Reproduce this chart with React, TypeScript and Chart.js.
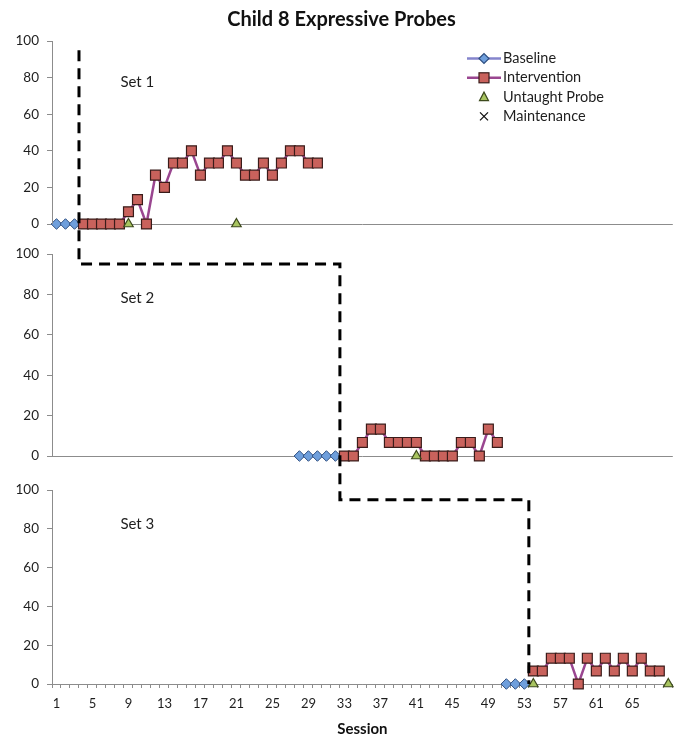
import React, { useEffect, useRef } from 'react';
import { Chart, registerables } from 'chart.js';

Chart.register(...registerables);

const TITLE = 'Child 8 Expressive Probes';
const X_TITLE = 'Session';
const FONT = 'Lato, "Open Sans", sans-serif';

const xTickLabels = [1, 5, 9, 13, 17, 21, 25, 29, 33, 37, 41, 45, 49, 53, 57, 61, 65];
const yTickValues = [0, 20, 40, 60, 80, 100];

// Set 1
const set1BaselineSessions = [1, 2, 3];
const set1BaselineValues = [0, 0, 0];
const set1InterventionSessions = [4, 5, 6, 7, 8, 9, 10, 11, 12, 13, 14, 15, 16, 17, 18, 19, 20, 21, 22, 23, 24, 25, 26, 27, 28, 29, 30];
const set1InterventionValues = [0, 0, 0, 0, 0, 6.7, 13.3, 0, 26.7, 20, 33.3, 33.3, 40, 26.7, 33.3, 33.3, 40, 33.3, 26.7, 26.7, 33.3, 26.7, 33.3, 40, 40, 33.3, 33.3];
const set1ProbeSessions = [9, 21];
const set1ProbeValues = [0, 0];

// Set 2
const set2BaselineSessions = [28, 29, 30, 31, 32];
const set2BaselineValues = [0, 0, 0, 0, 0];
const set2InterventionSessions = [33, 34, 35, 36, 37, 38, 39, 40, 41, 42, 43, 44, 45, 46, 47, 48, 49, 50];
const set2InterventionValues = [0, 0, 6.7, 13.3, 13.3, 6.7, 6.7, 6.7, 6.7, 0, 0, 0, 0, 6.7, 6.7, 0, 13.3, 6.7];
const set2ProbeSessions = [41];
const set2ProbeValues = [0];

// Set 3
const set3BaselineSessions = [51, 52, 53];
const set3BaselineValues = [0, 0, 0];
const set3InterventionSessions = [54, 55, 56, 57, 58, 59, 60, 61, 62, 63, 64, 65, 66, 67, 68];
const set3InterventionValues = [6.7, 6.7, 13.3, 13.3, 13.3, 0, 13.3, 6.7, 13.3, 6.7, 13.3, 6.7, 13.3, 6.7, 6.7];
const set3ProbeSessions = [54, 69];
const set3ProbeValues = [0, 0];

// Phase-change line and panel labels
const phaseSessions = [3.5, 32.5, 53.5];
const phaseTopValue = 95;
const setLabels = ['Set 1', 'Set 2', 'Set 3'];
const setLabelSession = 8.1;
const setLabelValues = [77.6, 78.2, 82.5];

const legendLabels = ['Baseline', 'Intervention', 'Untaught Probe', 'Maintenance'];

const COLORS = {
  baseLine: '#8585cc',
  baseFill: '#6f9fdc',
  baseBorder: '#2f4f80',
  intLine: '#9a4690',
  intFill: '#c9625c',
  intBorder: '#3a1c1a',
  probeFill: '#a8c460',
  probeBorder: '#3d4a1d',
  axis: '#8c8c8c',
  text: '#1e1e1e',
};

const pts = (xs: number[], ys: number[]) => xs.map((x, i) => ({ x, y: ys[i] }));

const baseline = (xs: number[], ys: number[], axis: string) => ({
  label: 'Baseline',
  yAxisID: axis,
  data: pts(xs, ys),
  borderColor: COLORS.baseLine,
  borderWidth: 2.5,
  pointStyle: 'rectRot',
  pointRadius: 5.3,
  pointBackgroundColor: COLORS.baseFill,
  pointBorderColor: COLORS.baseBorder,
  pointBorderWidth: 1,
  clip: false,
});

const intervention = (xs: number[], ys: number[], axis: string) => ({
  label: 'Intervention',
  yAxisID: axis,
  data: pts(xs, ys),
  borderColor: COLORS.intLine,
  borderWidth: 2.5,
  pointStyle: 'rect',
  pointRadius: 7,
  pointBackgroundColor: COLORS.intFill,
  pointBorderColor: COLORS.intBorder,
  pointBorderWidth: 1.2,
  clip: false,
});

const probe = (xs: number[], ys: number[], axis: string) => ({
  label: 'Untaught Probe',
  yAxisID: axis,
  data: pts(xs, ys),
  showLine: false,
  pointStyle: 'triangle',
  pointRadius: 5.5,
  pointBackgroundColor: COLORS.probeFill,
  pointBorderColor: COLORS.probeBorder,
  pointBorderWidth: 1.2,
  clip: false,
});

const yAxis = (min: number, weight: number) => ({
  type: 'linear',
  position: 'left',
  stack: 'panels',
  stackWeight: weight,
  min,
  max: 100,
  afterBuildTicks: (s: any) => {
    s.ticks = yTickValues.map((v) => ({ value: v }));
  },
  afterFit: (s: any) => {
    s.width = 44;
  },
  border: { display: false },
  grid: {
    drawOnChartArea: true,
    drawTicks: true,
    tickLength: 5,
    lineWidth: 1,
    color: (ctx: any) => (ctx.tick && ctx.tick.value === 0 ? COLORS.axis : 'rgba(0,0,0,0)'),
    tickColor: COLORS.axis,
  },
  ticks: {
    font: { family: FONT, size: 13.5 },
    color: COLORS.text,
    padding: 8,
  },
});

const decorPlugin = {
  id: 'decor',
  afterDatasetsDraw(chart: any) {
    const { ctx, chartArea, scales } = chart;
    const x = scales.x;
    const ys = [scales.y1, scales.y2, scales.y3];
    ctx.save();
    // y-axis lines per panel
    ctx.strokeStyle = COLORS.axis;
    ctx.lineWidth = 1;
    ys.forEach((s) => {
      ctx.beginPath();
      ctx.moveTo(chartArea.left + 0.5, s.getPixelForValue(100));
      ctx.lineTo(chartArea.left + 0.5, s.getPixelForValue(0));
      ctx.stroke();
    });
    // phase-change dashed line
    ctx.strokeStyle = '#000';
    ctx.lineWidth = 3;
    ctx.setLineDash([11, 7]);
    ctx.beginPath();
    const x0 = x.getPixelForValue(phaseSessions[0]);
    ctx.moveTo(x0, ys[0].getPixelForValue(phaseTopValue));
    ctx.lineTo(x0, ys[1].getPixelForValue(phaseTopValue));
    const x1 = x.getPixelForValue(phaseSessions[1]);
    ctx.lineTo(x1, ys[1].getPixelForValue(phaseTopValue));
    ctx.lineTo(x1, ys[2].getPixelForValue(phaseTopValue));
    const x2 = x.getPixelForValue(phaseSessions[2]);
    ctx.lineTo(x2, ys[2].getPixelForValue(phaseTopValue));
    ctx.lineTo(x2, ys[2].getPixelForValue(0));
    ctx.stroke();
    ctx.setLineDash([]);
    // set labels
    ctx.fillStyle = COLORS.text;
    ctx.font = `15px ${FONT}`;
    ctx.textBaseline = 'middle';
    ctx.textAlign = 'left';
    setLabels.forEach((t, i) => {
      ctx.fillText(t, x.getPixelForValue(setLabelSession), ys[i].getPixelForValue(setLabelValues[i]));
    });
    // legend
    const lx = chartArea.left + 415;
    const mx = lx + 17;
    const tx = lx + 36;
    ctx.font = `14.5px ${FONT}`;
    legendLabels.forEach((label, i) => {
      const ly = chartArea.top + 17.5 + i * 19.3;
      if (i === 0 || i === 1) {
        ctx.strokeStyle = i === 0 ? COLORS.baseLine : COLORS.intLine;
        ctx.lineWidth = 2.5;
        ctx.beginPath();
        ctx.moveTo(lx, ly);
        ctx.lineTo(lx + 34, ly);
        ctx.stroke();
      }
      ctx.lineWidth = 1.2;
      if (i === 0) {
        ctx.fillStyle = COLORS.baseFill;
        ctx.strokeStyle = COLORS.baseBorder;
        ctx.beginPath();
        ctx.moveTo(mx - 5, ly);
        ctx.lineTo(mx, ly - 5);
        ctx.lineTo(mx + 5, ly);
        ctx.lineTo(mx, ly + 5);
        ctx.closePath();
        ctx.fill();
        ctx.stroke();
      } else if (i === 1) {
        ctx.fillStyle = COLORS.intFill;
        ctx.strokeStyle = COLORS.intBorder;
        ctx.fillRect(mx - 5, ly - 5, 10, 10);
        ctx.strokeRect(mx - 5, ly - 5, 10, 10);
      } else if (i === 2) {
        ctx.fillStyle = COLORS.probeFill;
        ctx.strokeStyle = COLORS.probeBorder;
        ctx.beginPath();
        ctx.moveTo(mx, ly - 5);
        ctx.lineTo(mx + 4.5, ly + 3.5);
        ctx.lineTo(mx - 4.5, ly + 3.5);
        ctx.closePath();
        ctx.fill();
        ctx.stroke();
      } else {
        ctx.strokeStyle = '#111';
        ctx.lineWidth = 1.3;
        ctx.beginPath();
        ctx.moveTo(mx - 4, ly - 4);
        ctx.lineTo(mx + 4, ly + 4);
        ctx.moveTo(mx + 4, ly - 4);
        ctx.lineTo(mx - 4, ly + 4);
        ctx.stroke();
      }
      ctx.fillStyle = COLORS.text;
      ctx.fillText(label, tx, ly);
    });
    ctx.restore();
  },
};

export default function App() {
  const ref = useRef<HTMLCanvasElement | null>(null);
  useEffect(() => {
    if (!ref.current) return;
    const chart = new Chart(ref.current, {
      type: 'line',
      data: {
        datasets: [
          probe(set1ProbeSessions, set1ProbeValues, 'y1'),
          probe(set2ProbeSessions, set2ProbeValues, 'y2'),
          probe(set3ProbeSessions, set3ProbeValues, 'y3'),
          intervention(set1InterventionSessions, set1InterventionValues, 'y1'),
          intervention(set2InterventionSessions, set2InterventionValues, 'y2'),
          intervention(set3InterventionSessions, set3InterventionValues, 'y3'),
          baseline(set1BaselineSessions, set1BaselineValues, 'y1'),
          baseline(set2BaselineSessions, set2BaselineValues, 'y2'),
          baseline(set3BaselineSessions, set3BaselineValues, 'y3'),
        ] as any,
      },
      options: {
        responsive: false,
        animation: false,
        events: [],
        layout: { padding: { left: 0, right: 6, top: 0, bottom: 0 } },
        plugins: {
          legend: { display: false },
          tooltip: { enabled: false },
          title: {
            display: true,
            text: TITLE,
            font: { family: FONT, size: 20, weight: 'bold' },
            color: '#111',
            padding: { top: 0, bottom: 9 },
          },
        },
        scales: {
          x: {
            type: 'linear',
            position: 'bottom',
            min: 0.5,
            max: 69.5,
            afterBuildTicks: (s: any) => {
              const t: any[] = [];
              for (let v = 0.5; v <= 69.5; v += 0.5) t.push({ value: v });
              s.ticks = t;
            },
            afterFit: (s: any) => {
              s.height = 54;
            },
            border: { display: true, color: COLORS.axis },
            grid: {
              drawOnChartArea: false,
              drawTicks: true,
              tickLength: 4,
              tickColor: (ctx: any) =>
                ctx.tick && Number.isInteger(ctx.tick.value) ? 'rgba(0,0,0,0)' : COLORS.axis,
            },
            ticks: {
              autoSkip: false,
              maxRotation: 0,
              minRotation: 0,
              padding: 8,
              font: { family: FONT, size: 13 },
              color: COLORS.text,
              callback: (v: any) => (xTickLabels.includes(Number(v)) ? String(v) : ''),
            },
            title: {
              display: true,
              text: X_TITLE,
              font: { family: FONT, size: 15, weight: 'bold' },
              color: '#111',
              padding: { top: 0, bottom: 0 },
            },
          },
          y3: yAxis(0, 194),
          y2: yAxis(-16.83, 236),
          y1: yAxis(-16.39, 213),
        } as any,
      },
      plugins: [decorPlugin],
    });
    return () => chart.destroy();
  }, []);
  return (
    <div style={{ width: 673, height: 730 }}>
      <canvas ref={ref} width={673} height={730} style={{ display: 'block' }} />
    </div>
  );
}
